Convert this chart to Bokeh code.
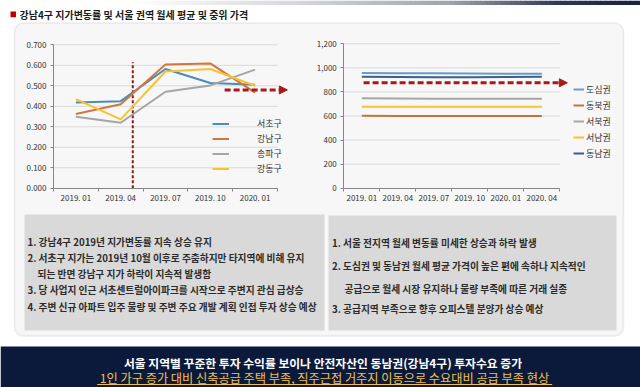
import numpy as np
from bokeh.plotting import figure
from bokeh.models import (Range1d, LinearAxis, FixedTicker, NumeralTickFormatter,
                          Legend, LegendItem, Arrow, NormalHead, BoxAnnotation)
from bokeh.core.properties import value
from bokeh.embed import file_html
from bokeh.resources import INLINE

FONT = "Noto Sans CJK KR"

# ---------------- data ----------------
title_text = "강남4구 지가변동률 및 서울 권역 월세 평균 및 중위 가격"

land_periods = ["2019. 01", "2019. 04", "2019. 07", "2019. 10", "2020. 01"]
seocho = [0.419, 0.425, 0.582, 0.514, 0.505]
gangnam = [0.362, 0.410, 0.604, 0.609, 0.467]
songpa = [0.349, 0.320, 0.471, 0.502, 0.579]
gangdong = [0.435, 0.336, 0.570, 0.582, 0.500]
land_ticks = [0.0, 0.1, 0.2, 0.3, 0.4, 0.5, 0.6, 0.7]
land_marker_x = 1.77      # dashed divider between 2019.04 and 2019.07
land_marker_top = 0.615
land_arrow_x = [3.82, 5.22]
land_arrow_y = 0.48

rent_periods = ["2019. 01", "2019. 04", "2019. 07", "2019. 10", "2020. 01", "2020. 04"]
dosim = [958, 956, 955, 954, 952, 951]
dongbuk = [602, 601, 601, 601, 600, 600]
seobuk = [748, 746, 744, 744, 743, 743]
seonam = [677, 676, 676, 676, 676, 676]
dongnam = [926, 924, 922, 923, 925, 926]
rent_ticks = [0, 200, 400, 600, 800, 1000, 1200]
rent_arrow_x = [0.55, 6.21]
rent_arrow_y = 876

left_notes = [
    "1.  강남4구 2019년 지가변동률 지속 상승 유지",
    "2.  서초구 지가는 2019년 10월 이후로 주춤하지만 타지역에 비해 유지",
    "되는 반면 강남구 지가 하락이 지속적 발생함",
    "3. 당 사업지 인근 서초센트럴아이파크를 시작으로 주변지 관심 급상승",
    "4. 주변 신규 아파트 입주 물량 및 주변 주요 개발 계획 인접 투자 상승 예상",
]
right_notes = [
    "1.  서울 전지역 월세 변동률 미세한 상승과 하락 발생",
    "2.  도심권 및 동남권 월세 평균 가격이 높은 편에 속하나 지속적인",
    "공급으로 월세 시장 유지하나 물량 부족에 따른 거래 실종",
    "3. 공급지역 부족으로 향후 오피스텔 분양가 상승 예상",
]
banner_lines = [
    "서울 지역별 꾸준한 투자 수익률 보이나 안전자산인 동남권(강남4구) 투자수요 증가",
    "1인 가구 증가 대비 신축공급 주택 부족, 직주근접 거주지 이동으로 수요대비 공급 부족 현상",
]

# ---------------- layout (page pixels) ----------------
FX0, FX1, FY0, FY1 = 0, 640, 0, 387


def Y(py):
    return FY1 - py


def span(v0, p0, v1, p1, q0, q1):
    k = (v1 - v0) / (p1 - p0)
    return Range1d(start=v0 + k * (q0 - p0), end=v0 + k * (q1 - p0))


nL = len(land_periods)
nR = len(rent_periods)
lx = span(0, 53, nL, 277, FX0, FX1)
ly = span(0, 187.8, 0.7, 44.3, FY1, FY0)
rx = span(0, 343.3, nR, 559.3, FX0, FX1)
ry = span(0, 187.7, 1200, 43.3, FY1, FY0)

p = figure(width=640, height=387, x_range=Range1d(FX0, FX1), y_range=Range1d(0, FY1 - FY0),
           x_axis_type=None, y_axis_type=None, toolbar_location=None,
           output_backend="svg", min_border=0, outline_line_color=None,
           background_fill_color="white", border_fill_color="white")
p.extra_x_ranges = {"lx": lx, "rx": rx}
p.extra_y_ranges = {"ly": ly, "ry": ry}

# top gradient strip
def mix(c1, c2, t):
    a = [int(c1[i:i + 2], 16) for i in (1, 3, 5)]
    b = [int(c2[i:i + 2], 16) for i in (1, 3, 5)]
    return "#%02x%02x%02x" % tuple(int(round(a[k] + (b[k] - a[k]) * t)) for k in range(3))

stops = [(130, "#FFFFFF"), (300, "#D4D6DA"), (450, "#9EA3AC"), (560, "#2A3856"), (640, "#15213D")]
gl, gr, gc = [], [], []
for (x0, c0), (x1, c1) in zip(stops[:-1], stops[1:]):
    for s in range(int((x1 - x0) / 5)):
        xa = x0 + s * 5
        gl.append(xa)
        gr.append(xa + 5.5)
        gc.append(mix(c0, c1, (s + 0.5) * 5 / (x1 - x0)))
p.quad(left=gl, right=gr, top=[Y(0)] * len(gl), bottom=[Y(4.5)] * len(gl), fill_color=gc, line_color=None)

# panel
p.add_layout(BoxAnnotation(left=14, right=623, top=Y(22.5), bottom=Y(335.5), border_radius=9,
                           fill_color="#F7F7F7", fill_alpha=1, line_color="#C3C3C3",
                           line_width=1.5, level="underlay"))

# title
p.quad(left=[10], right=[15.5], top=[Y(11)], bottom=[Y(16.7)], fill_color="#C00000", line_color=None)
p.text(x=[19], y=[Y(14)], text=[title_text], text_font=value(FONT), text_font_style="bold",
       text_font_size="10px", text_color="#1A1A1A", text_baseline="middle", text_align="left")

# note boxes
NOTE_FS = "9.7px"
p.quad(left=[24, 328], right=[324, 616], top=[Y(214), Y(215)], bottom=[Y(330), Y(330)],
       fill_color="#D9D9D9", line_color=None)
p.text(x=[27, 27, 37, 27, 27], y=[Y(241.7), Y(257.7), Y(273.3), Y(289.3), Y(306.5)],
       text=left_notes, text_font=value(FONT), text_font_style="bold", text_font_size=NOTE_FS,
       text_color="#2B2B2B", text_baseline="middle", text_align="left")
p.text(x=[331.5, 331.5, 344, 331.5], y=[Y(242.3), Y(265), Y(288.3), Y(308.3)],
       text=right_notes, text_font=value(FONT), text_font_style="bold", text_font_size=NOTE_FS,
       text_color="#2B2B2B", text_baseline="middle", text_align="left")

# banner
p.quad(left=[FX0], right=[FX1], top=[Y(346)], bottom=[0], fill_color="#0B1A3A", line_color=None)
p.text(x=[322.5], y=[Y(361.5)], text=[banner_lines[0]], text_font=value(FONT), text_font_style="bold",
       text_font_size="11.8px", text_color="white", text_baseline="middle", text_align="center")
p.text(x=[324], y=[Y(377.5)], text=[banner_lines[1]], text_font=value(FONT),
       text_font_size="12.2px", text_color="#F2C14E", text_baseline="middle", text_align="center")
p.segment(x0=[96.7], x1=[551.7], y0=[Y(384)], y1=[Y(384)], line_color="#F2C14E", line_width=1)

AXC = "#868686"
GRC = "#D9D9D9"


def add_axes(xr, yr, n, ticks, fmt, labels):
    # gridlines
    g = [t for t in ticks if t != 0]
    p.segment(x0=[0] * len(g), x1=[n] * len(g), y0=g, y1=g, x_range_name=xr, y_range_name=yr,
              line_color=GRC, line_width=1)
    ya = LinearAxis(x_range_name=xr, y_range_name=yr, fixed_location=0, bounds=(0, ticks[-1]),
                    ticker=FixedTicker(ticks=ticks), formatter=NumeralTickFormatter(format=fmt),
                    axis_line_color=AXC, major_tick_line_color=AXC, major_tick_out=3, major_tick_in=0,
                    minor_tick_out=0, minor_tick_in=0, major_label_text_font=FONT,
                    major_label_text_font_size="8px", major_label_text_color="#333333",
                    major_label_standoff=4)
    p.add_layout(ya, "left")
    xa = LinearAxis(x_range_name=xr, y_range_name=yr, fixed_location=0, bounds=(0, n),
                    ticker=FixedTicker(ticks=list(range(n + 1))),
                    major_label_overrides={i: "" for i in range(n + 1)},
                    axis_line_color=AXC, major_tick_line_color=AXC, major_tick_out=3, major_tick_in=0,
                    minor_tick_out=0, minor_tick_in=0)
    p.add_layout(xa, "below")
    centers = [i + 0.5 for i in range(n)]
    xl = LinearAxis(x_range_name=xr, y_range_name=yr, fixed_location=0,
                    ticker=FixedTicker(ticks=centers),
                    major_label_overrides={c: lab for c, lab in zip(centers, labels)},
                    axis_line_color=None, major_tick_line_color=None, major_tick_out=0, major_tick_in=0,
                    minor_tick_out=0, minor_tick_in=0, major_label_text_font=FONT,
                    major_label_text_font_size="8px", major_label_text_color="#333333",
                    major_label_standoff=4)
    p.add_layout(xl, "below")
    return centers


# ---------------- left chart ----------------
lc = add_axes("lx", "ly", nL, land_ticks, "0.000", land_periods)
p.segment(x0=[land_marker_x], x1=[land_marker_x], y0=[0], y1=[land_marker_top],
          x_range_name="lx", y_range_name="ly", line_color="#8B1A1A", line_width=2, line_dash="3 2")
left_series = [("서초구", seocho, "#4A8DB7"), ("강남구", gangnam, "#D0773F"),
               ("송파구", songpa, "#A5A5A5"), ("강동구", gangdong, "#F8C22F")]
litems = []
for name, vals, col in left_series:
    r = p.line(x=lc, y=vals, x_range_name="lx", y_range_name="ly", line_color=col, line_width=2)
    litems.append(LegendItem(label=name, renderers=[r]))
p.add_layout(Arrow(x_start=land_arrow_x[0], y_start=land_arrow_y, x_end=land_arrow_x[1], y_end=land_arrow_y,
                   x_range_name="lx", y_range_name="ly", line_color="#A8191B", line_width=3,
                   line_dash="6 3",
                   end=NormalHead(size=8, fill_color="#A8191B", line_color="#A8191B", line_width=1)))
p.add_layout(Legend(items=litems, location=(212, 387 - 176), orientation="vertical", padding=0, margin=0,
                    spacing=0, glyph_width=17, glyph_height=15, label_height=15, label_standoff=28,
                    border_line_color=None, background_fill_alpha=0, label_text_font=FONT,
                    label_text_font_size="9px", label_text_color="#333333"))

# ---------------- right chart ----------------
rc = add_axes("rx", "ry", nR, rent_ticks, "0,0", rent_periods)
right_series = [("도심권", dosim, "#6A9BCB"), ("동북권", dongbuk, "#C8723A"),
                ("서북권", seobuk, "#A6A6A6"), ("서남권", seonam, "#F8C22F"),
                ("동남권", dongnam, "#3D5F8C")]
ritems = []
for name, vals, col in right_series:
    r = p.line(x=rc, y=vals, x_range_name="rx", y_range_name="ry", line_color=col, line_width=2)
    ritems.append(LegendItem(label=name, renderers=[r]))
p.add_layout(Arrow(x_start=rent_arrow_x[0], y_start=rent_arrow_y, x_end=rent_arrow_x[1], y_end=rent_arrow_y,
                   x_range_name="rx", y_range_name="ry", line_color="#A8191B", line_width=3,
                   line_dash="6 3",
                   end=NormalHead(size=8, fill_color="#A8191B", line_color="#A8191B", line_width=1)))
p.add_layout(Legend(items=ritems, location=(573, 387 - 161), orientation="vertical", padding=0, margin=0,
                    spacing=0, glyph_width=11, glyph_height=16, label_height=16, label_standoff=2,
                    border_line_color=None, background_fill_alpha=0, label_text_font=FONT,
                    label_text_font_size="9px", label_text_color="#333333"))

open("out.html", "w").write(file_html(p, INLINE))
